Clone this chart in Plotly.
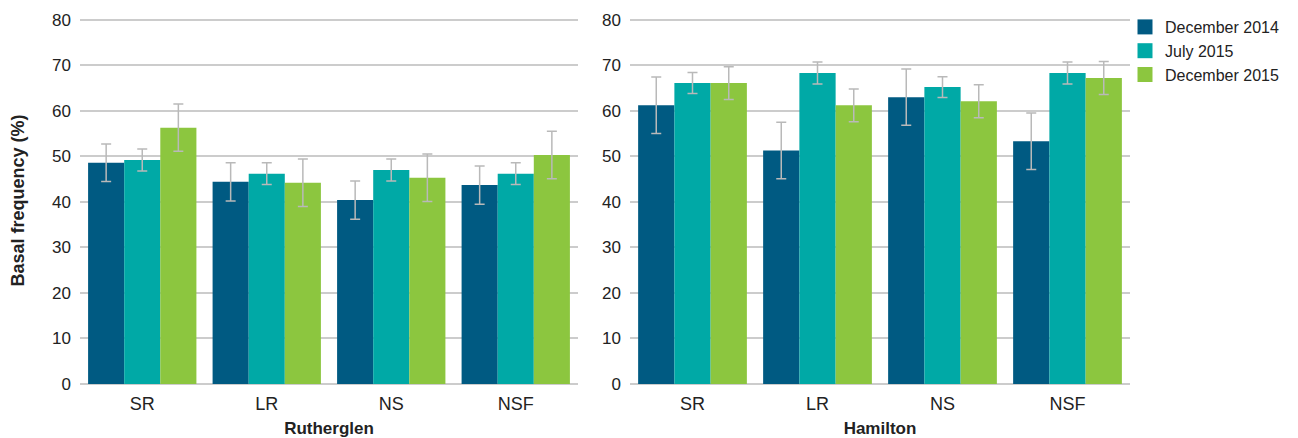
import plotly.graph_objects as go
from plotly.subplots import make_subplots

categories = ["SR", "LR", "NS", "NSF"]
series_names = ["December 2014", "July 2015", "December 2015"]
colors = ["#005a82", "#00a9a6", "#8cc63f"]

# Rutherglen
ruth_dec14 = [48.6, 44.4, 40.4, 43.7]
ruth_jul15 = [49.2, 46.2, 47.0, 46.2]
ruth_dec15 = [56.3, 44.2, 45.3, 50.3]
ruth_err_dec14 = [4.1, 4.2, 4.2, 4.2]
ruth_err_jul15 = [2.4, 2.4, 2.4, 2.4]
ruth_err_dec15 = [5.2, 5.2, 5.2, 5.2]

# Hamilton
ham_dec14 = [61.2, 51.3, 63.0, 53.3]
ham_jul15 = [66.1, 68.3, 65.2, 68.3]
ham_dec15 = [66.1, 61.2, 62.1, 67.2]
ham_err_dec14 = [6.2, 6.2, 6.2, 6.2]
ham_err_jul15 = [2.3, 2.4, 2.3, 2.4]
ham_err_dec15 = [3.6, 3.6, 3.6, 3.6]

y_ticks = [0, 10, 20, 30, 40, 50, 60, 70, 80]

FONT = "Liberation Sans, Arial, sans-serif"
# page body has an 8px default margin, so the figure is 8px smaller
W, H = 1290, 430
ML, MR, MT, MB = 72, 168, 9, 54
PW = W - ML - MR
PH = H - MT - MB

fig = make_subplots(rows=1, cols=2)

ruth = [(ruth_dec14, ruth_err_dec14), (ruth_jul15, ruth_err_jul15), (ruth_dec15, ruth_err_dec15)]
ham = [(ham_dec14, ham_err_dec14), (ham_jul15, ham_err_jul15), (ham_dec15, ham_err_dec15)]

for col, data in ((1, ruth), (2, ham)):
    for i, (vals, errs) in enumerate(data):
        fig.add_trace(go.Bar(
            x=categories, y=vals, name=series_names[i],
            marker=dict(color=colors[i], line=dict(width=0)),
            error_y=dict(type="data", array=errs, visible=True,
                         color="#b9b9b9", thickness=1.5, width=5),
            showlegend=False, legendgroup=series_names[i],
        ), row=1, col=col)

# legend entries with larger square swatches
for i, name in enumerate(series_names):
    fig.add_trace(go.Scatter(
        x=[None], y=[None], mode="markers", name=name, legendgroup=name,
        marker=dict(symbol="square", size=15, color=colors[i], line=dict(width=0)),
        showlegend=True,
    ), row=1, col=1)

fig.update_layout(
    width=W, height=H,
    margin=dict(l=ML, r=MR, t=MT, b=MB, autoexpand=False),
    paper_bgcolor="white", plot_bgcolor="white",
    barmode="group", bargap=0.13, bargroupgap=0,
    font=dict(family=FONT, size=17, color="#222222"),
    legend=dict(x=(1117 - ML) / PW, y=1 + 7 / PH, xanchor="left", yanchor="top",
                font=dict(size=16, color="#222222"), itemwidth=30, itemsizing="trace",
                tracegroupgap=0, bgcolor="rgba(0,0,0,0)"),
    xaxis=dict(domain=[0, (570 - ML) / PW]),
    xaxis2=dict(domain=[(622 - ML) / PW, 1]),
)

for ax, title in (("xaxis", "Rutherglen"), ("xaxis2", "Hamilton")):
    fig.layout[ax].update(
        title=dict(text="<b>" + title + "</b>", font=dict(size=17, color="#222222"), standoff=13),
        showline=False, showgrid=False, ticks="", tickfont=dict(size=18),
        ticklabelstandoff=7, automargin=False,
    )

for ax in ("yaxis", "yaxis2"):
    fig.layout[ax].update(
        range=[0, 80.6], tickvals=y_ticks, showgrid=True, gridcolor="#cccccc", gridwidth=2,
        zeroline=True, zerolinecolor="#cccccc", zerolinewidth=2,
        showline=False, ticks="", tickfont=dict(size=17), ticklabelstandoff=8,
        automargin=False,
    )

fig.add_annotation(
    text="<b>Basal frequency (%)</b>", textangle=-90,
    xref="paper", yref="paper", x=(9 - ML) / PW, y=0.5,
    xanchor="center", yanchor="middle", showarrow=False,
    font=dict(size=18, color="#222222"),
)

fig.write_html("out.html")
